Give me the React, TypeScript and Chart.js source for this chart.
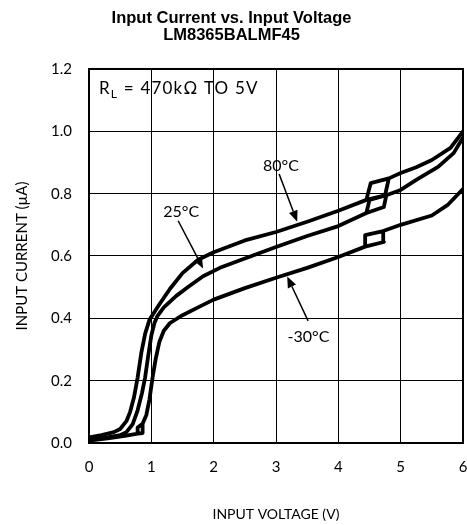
import React, { useEffect, useRef } from 'react';
import { Chart, registerables } from 'chart.js';

Chart.register(...registerables);

// ---- data ----
const titleLines = ['Input Current vs. Input Voltage', 'LM8365BALMF45'];
const xAxisTitle = 'INPUT VOLTAGE (V)';
const yAxisTitle = 'INPUT CURRENT (µA)';
const xTickValues = [0, 1, 2, 3, 4, 5, 6];
const yTickValues = [0, 0.2, 0.4, 0.6, 0.8, 1.0, 1.2];

const seriesLabels = ['80°C', '25°C', '-30°C'];

const volts80 = [0, 0.2, 0.4, 0.5, 0.6, 0.66, 0.72, 0.78, 0.84, 0.9, 0.97, 1.05, 1.13, 1.3, 1.5, 1.75, 2.0, 2.5, 3.0, 3.5, 4.0, 4.45, 4.52, 4.81, 4.75, 4.45, 4.75, 4.81, 5.0, 5.25, 5.5, 5.8, 6.0];
const amps80 = [0.018, 0.025, 0.035, 0.045, 0.07, 0.1, 0.145, 0.21, 0.29, 0.35, 0.395, 0.42, 0.445, 0.495, 0.545, 0.588, 0.612, 0.65, 0.677, 0.71, 0.745, 0.78, 0.834, 0.849, 0.795, 0.78, 0.795, 0.849, 0.866, 0.885, 0.908, 0.947, 1.0];

const volts25 = [0, 0.3, 0.5, 0.6, 0.7, 0.78, 0.85, 0.9, 0.95, 1.0, 1.05, 1.1, 1.2, 1.4, 1.6, 1.83, 2.1, 2.5, 3.0, 3.5, 4.0, 4.45, 4.5, 4.77, 4.73, 4.45, 4.73, 4.77, 5.0, 5.25, 5.6, 5.85, 6.0];
const amps25 = [0.012, 0.018, 0.025, 0.035, 0.06, 0.105, 0.16, 0.21, 0.28, 0.345, 0.385, 0.408, 0.435, 0.472, 0.502, 0.535, 0.562, 0.592, 0.629, 0.664, 0.696, 0.738, 0.78, 0.795, 0.757, 0.738, 0.757, 0.795, 0.812, 0.844, 0.886, 0.93, 0.98];

const voltsM30 = [0, 0.3, 0.6, 0.78, 0.86, 0.86, 0.78, 0.78, 0.86, 0.86, 0.92, 0.97, 1.02, 1.07, 1.13, 1.2, 1.3, 1.5, 1.75, 2.0, 2.5, 3.0, 3.5, 4.0, 4.43, 4.73, 4.72, 4.43, 4.43, 4.73, 4.72, 5.0, 5.5, 5.75, 6.0];
const ampsM30 = [0.008, 0.015, 0.024, 0.03, 0.032, 0.062, 0.05, 0.03, 0.032, 0.062, 0.09, 0.14, 0.21, 0.27, 0.325, 0.36, 0.385, 0.41, 0.435, 0.46, 0.497, 0.53, 0.562, 0.597, 0.63, 0.645, 0.68, 0.667, 0.63, 0.645, 0.68, 0.70, 0.73, 0.763, 0.815];

// annotation text / arrows (data coordinates)
const noteText = ['R', 'L', ' = 470kΩ TO 5V'];
const labelPos = [
  { x: 3.08, y: 0.89 },
  { x: 1.48, y: 0.742 },
  { x: 3.52, y: 0.34 },
];
const arrowFrom = [
  { x: 3.05, y: 0.863 },
  { x: 1.43, y: 0.713 },
  { x: 3.515, y: 0.392 },
];
const arrowTo = [
  { x: 3.34, y: 0.71 },
  { x: 1.83, y: 0.56 },
  { x: 3.18, y: 0.534 },
];

const FONT = 'Lato, "Open Sans", sans-serif';

function toPoints(xs: number[], ys: number[]) {
  return xs.map((x, i) => ({ x, y: ys[i] }));
}

const annotationPlugin = {
  id: 'annotations',
  afterDatasetsDraw(chart: any) {
    const { ctx, chartArea, scales } = chart;
    const xs = scales.x;
    const ys = scales.y;
    ctx.save();
    // frame
    ctx.strokeStyle = '#000';
    ctx.lineWidth = 2;
    ctx.strokeRect(chartArea.left, chartArea.top, chartArea.right - chartArea.left, chartArea.bottom - chartArea.top);

    // R_L note
    ctx.fillStyle = '#000';
    ctx.textBaseline = 'alphabetic';
    ctx.textAlign = 'left';
    try { (ctx as any).letterSpacing = '1.2px'; } catch (e) { /* ignore */ }
    let nx = chartArea.left + 10;
    const ny = chartArea.top + 25;
    ctx.font = `17px ${FONT}`;
    ctx.fillText(noteText[0], nx, ny);
    nx += ctx.measureText(noteText[0]).width;
    ctx.font = `12px ${FONT}`;
    ctx.fillText(noteText[1], nx, ny + 4);
    nx += ctx.measureText(noteText[1]).width;
    ctx.font = `17px ${FONT}`;
    ctx.fillText(noteText[2], nx, ny);
    try { (ctx as any).letterSpacing = '0px'; } catch (e) { /* ignore */ }

    // labels
    ctx.font = `16px ${FONT}`;
    ctx.textAlign = 'center';
    ctx.textBaseline = 'middle';
    seriesLabels.forEach((t, i) => {
      ctx.fillText(t, xs.getPixelForValue(labelPos[i].x), ys.getPixelForValue(labelPos[i].y));
    });

    // arrows
    ctx.lineWidth = 1.5;
    arrowFrom.forEach((f, i) => {
      const x1 = xs.getPixelForValue(f.x);
      const y1 = ys.getPixelForValue(f.y);
      const x2 = xs.getPixelForValue(arrowTo[i].x);
      const y2 = ys.getPixelForValue(arrowTo[i].y);
      const ang = Math.atan2(y2 - y1, x2 - x1);
      const headLen = 11;
      const headW = 4.5;
      const bx = x2 - headLen * Math.cos(ang);
      const by = y2 - headLen * Math.sin(ang);
      ctx.beginPath();
      ctx.moveTo(x1, y1);
      ctx.lineTo(bx, by);
      ctx.stroke();
      ctx.beginPath();
      ctx.moveTo(x2, y2);
      ctx.lineTo(bx + headW * Math.sin(ang), by - headW * Math.cos(ang));
      ctx.lineTo(bx - headW * Math.sin(ang), by + headW * Math.cos(ang));
      ctx.closePath();
      ctx.fill();
    });
    ctx.restore();
  },
};

export default function App() {
  const canvasRef = useRef<HTMLCanvasElement | null>(null);

  useEffect(() => {
    const canvas = canvasRef.current;
    if (!canvas) return;
    const lineStyle = {
      showLine: true,
      borderColor: '#000',
      backgroundColor: '#000',
      borderWidth: 3.8,
      pointRadius: 0,
      tension: 0,
      fill: false,
      borderJoinStyle: 'round' as const,
      borderCapStyle: 'round' as const,
    };
    const chart = new Chart(canvas, {
      type: 'scatter',
      data: {
        datasets: [
          { label: seriesLabels[0], data: toPoints(volts80, amps80), ...lineStyle },
          { label: seriesLabels[1], data: toPoints(volts25, amps25), ...lineStyle },
          { label: seriesLabels[2], data: toPoints(voltsM30, ampsM30), ...lineStyle },
        ],
      },
      options: {
        responsive: false,
        animation: false,
        layout: { padding: { left: 0, right: 4, top: 0, bottom: 0 } },
        plugins: {
          legend: { display: false },
          tooltip: { enabled: false },
          title: {
            display: true,
            text: titleLines,
            color: '#000',
            font: { family: '"Liberation Sans", Arial, sans-serif', size: 16.5, weight: 'bold', lineHeight: 1.03 },
            padding: { top: 9.5, bottom: 25.5 },
          },
        },
        scales: {
          x: {
            type: 'linear',
            min: 0,
            max: 6,
            afterFit: (s: any) => { s.height = 82; s.paddingRight = 0; s.paddingLeft = 0; },
            afterBuildTicks: (s: any) => { s.ticks = xTickValues.map((v) => ({ value: v })); },
            ticks: { color: '#000', font: { family: FONT, size: 15 }, padding: 15, callback: (v: any) => String(v) },
            grid: { color: '#000', lineWidth: 1, drawTicks: false },
            border: { display: true, color: '#000', width: 2 },
            title: { display: true, text: xAxisTitle, color: '#000', font: { family: FONT, size: 14 }, padding: { top: 0, bottom: 2 } },
          },
          y: {
            type: 'linear',
            min: 0,
            max: 1.2,
            afterFit: (s: any) => { s.width = 89; },
            afterBuildTicks: (s: any) => { s.ticks = yTickValues.map((v) => ({ value: v })); },
            ticks: { color: '#000', font: { family: FONT, size: 15 }, padding: 17, callback: (v: any) => Number(v).toFixed(1) },
            grid: { color: '#000', lineWidth: 1, drawTicks: false },
            border: { display: true, color: '#000', width: 2 },
            title: { display: true, text: yAxisTitle, color: '#000', font: { family: FONT, size: 15 }, padding: { top: 13, bottom: 0 } },
          },
        },
      },
      plugins: [annotationPlugin],
    });
    return () => chart.destroy();
  }, []);

  return (
    <div style={{ position: 'absolute', left: 0, top: 0, width: 467, height: 525, background: '#fff' }}>
      <canvas ref={canvasRef} width={467} height={525} />
    </div>
  );
}
